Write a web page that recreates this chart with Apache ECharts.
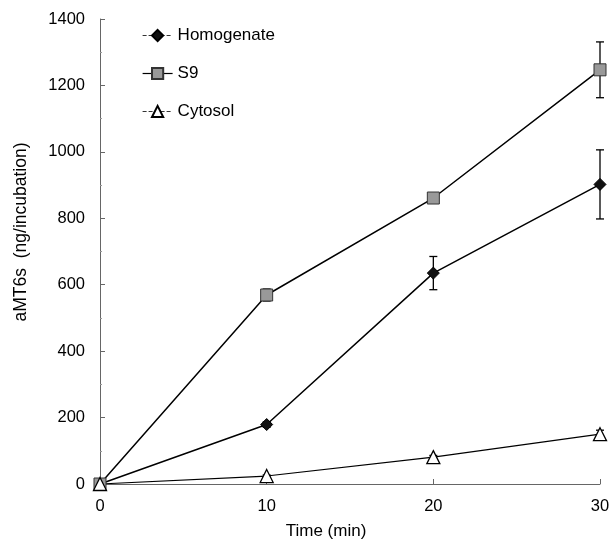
<!DOCTYPE html>
<html>
<head>
<meta charset="utf-8" />
<script src="https://cdn.jsdelivr.net/npm/echarts@6/dist/echarts.min.js"></script>
<style>
html, body { margin: 0; padding: 0; background: #fff; }
#chart { width: 611px; height: 539px; }
</style>
</head>
<body>
<div id="chart"></div>
<script>
var times = [0, 10, 20, 30];
var homogenate = [0, 179, 635, 902];
var homogenateErr = [0, 8, 50, 104];
var s9 = [0, 569, 861, 1247];
var s9Err = [0, 18, 8, 84];
var cytosol = [0, 24, 81, 150];
var cytosolErr = [0, 3, 5, 12];

var font = 'Liberation Sans, Arial, sans-serif';

function pairs(vals) {
	var out = [];
	for (var i = 0; i < times.length; i++) out.push([times[i], vals[i]]);
	return out;
}

function errData(vals, errs) {
	var out = [];
	for (var i = 0; i < times.length; i++) {
		if (errs[i] > 0) out.push([times[i], vals[i] - errs[i], vals[i] + errs[i]]);
	}
	return out;
}

// error bars with small caps
function errSeries(vals, errs) {
	return {
		type: 'custom',
		silent: true,
		z: 1,
		data: errData(vals, errs),
		renderItem: function (params, api) {
			var lo = api.coord([api.value(0), api.value(1)]);
			var hi = api.coord([api.value(0), api.value(2)]);
			var w = 4;
			var st = { stroke: '#000', lineWidth: 1.3 };
			return {
				type: 'group',
				children: [
					{ type: 'line', shape: { x1: lo[0], y1: lo[1], x2: hi[0], y2: hi[1] }, style: st },
					{ type: 'line', shape: { x1: lo[0] - w, y1: lo[1], x2: lo[0] + w, y2: lo[1] }, style: st },
					{ type: 'line', shape: { x1: hi[0] - w, y1: hi[1], x2: hi[0] + w, y2: hi[1] }, style: st }
				]
			};
		}
	};
}

var chart = echarts.init(document.getElementById('chart'));
var option = {
	animation: false,
	backgroundColor: '#fff',
	textStyle: { fontFamily: font },
	grid: { left: 100, right: 11, top: 19, bottom: 55, outerBoundsMode: 'none' },
	legend: {
		orient: 'vertical',
		left: 142,
		top: 27,
		padding: 0,
		itemGap: 21,
		itemWidth: 30,
		itemHeight: 14,
		textStyle: { fontFamily: font, fontSize: 17, color: '#000' },
		data: [
			{ name: 'Homogenate', lineStyle: { type: 'dashed', width: 1, color: '#333' } },
			{ name: 'S9', lineStyle: { width: 1.2 } },
			{ name: 'Cytosol', lineStyle: { type: 'dashed', width: 1, color: '#333' } }
		]
	},
	xAxis: {
		type: 'value',
		min: 0,
		max: 30,
		interval: 10,
		name: 'Time (min)',
		nameLocation: 'middle',
		nameGap: 39,
		nameTextStyle: { fontFamily: font, fontSize: 17, color: '#000', padding: [0, 48, 0, 0] },
		axisLine: { lineStyle: { color: '#666', width: 1 } },
		axisTick: { inside: true, length: 5, lineStyle: { color: '#666' } },
		axisLabel: { fontFamily: font, fontSize: 16.5, color: '#000', margin: 14 },
		splitLine: { show: false }
	},
	yAxis: {
		type: 'value',
		min: 0,
		max: 1400,
		interval: 200,
		name: 'aMT6s  (ng/incubation)',
		nameLocation: 'middle',
		nameGap: 70,
		nameTextStyle: { fontFamily: font, fontSize: 17.5, color: '#000', padding: [0, 0, 0, 39] },
		axisLine: { show: true, lineStyle: { color: '#666', width: 1 } },
		axisTick: { show: true, inside: true, length: 5, lineStyle: { color: '#666' } },
		minorTick: { show: true, splitNumber: 2, length: 2, lineStyle: { color: '#999' } },
		axisLabel: {
			fontFamily: font, fontSize: 16.5, color: '#000', margin: 15,
			formatter: function (v) { return String(v); }
		},
		splitLine: { show: false }
	},
	series: [
		errSeries(homogenate, homogenateErr),
		errSeries(s9, s9Err),
		errSeries(cytosol, cytosolErr),
		{
			name: 'Homogenate',
			type: 'line',
			data: pairs(homogenate),
			symbol: 'diamond',
			symbolSize: 12,
			z: 3,
			lineStyle: { color: '#000', width: 1.5 },
			itemStyle: { color: '#111', borderColor: '#000', borderWidth: 1 }
		},
		{
			name: 'S9',
			type: 'line',
			data: pairs(s9),
			symbol: 'rect',
			symbolSize: 12,
			z: 3,
			lineStyle: { color: '#000', width: 1.5 },
			itemStyle: { color: '#999', borderColor: '#333', borderWidth: 1 }
		},
		{
			name: 'Cytosol',
			type: 'line',
			data: pairs(cytosol),
			symbol: 'triangle',
			symbolSize: 13,
			z: 3,
			lineStyle: { color: '#000', width: 1.2 },
			itemStyle: { color: '#fff', borderColor: '#000', borderWidth: 1.3 }
		}
	]
};
chart.setOption(option);
</script>
</body>
</html>
